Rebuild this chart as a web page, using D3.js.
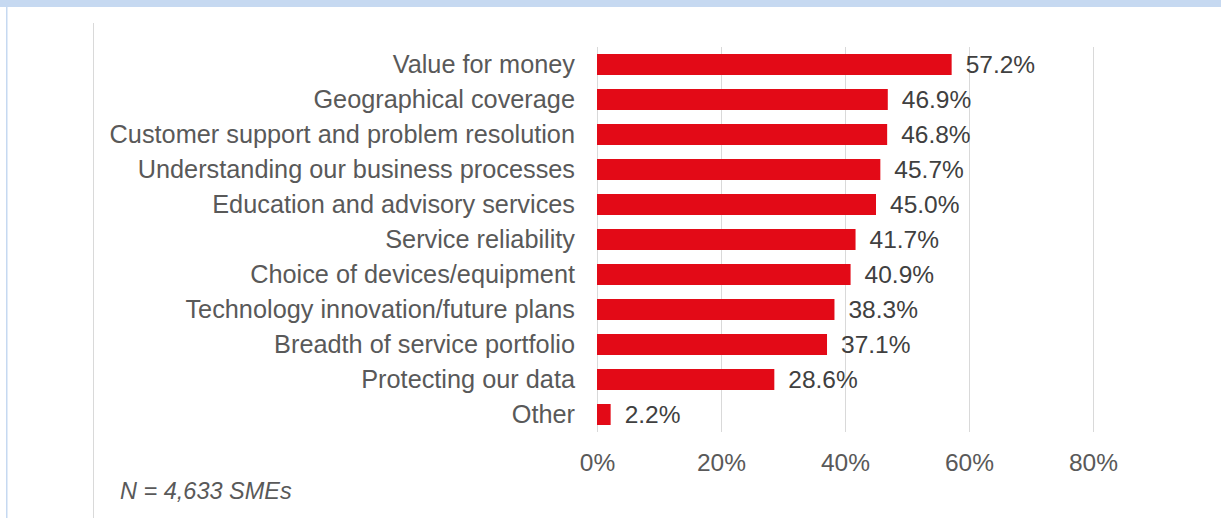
<!DOCTYPE html>
<html>
<head>
<meta charset="utf-8">
<script src="https://cdn.jsdelivr.net/npm/d3@7"></script>
<style>
  html, body { margin: 0; padding: 0; background: #fff; }
  svg { display: block; font-family: "Liberation Sans", Arial, sans-serif; }
</style>
</head>
<body>
<div id="host"></div>
<script>
const categories = [
  'Value for money',
  'Geographical coverage',
  'Customer support and problem resolution',
  'Understanding our business processes',
  'Education and advisory services',
  'Service reliability',
  'Choice of devices/equipment',
  'Technology innovation/future plans',
  'Breadth of service portfolio',
  'Protecting our data',
  'Other'
];
const values = [57.2, 46.9, 46.8, 45.7, 45.0, 41.7, 40.9, 38.3, 37.1, 28.6, 2.2];
const xTicks = [0, 20, 40, 60, 80];
const note = 'N = 4,633 SMEs';

const width = 1221, height = 518;
const margin = { top: 47, right: 128, bottom: 86, left: 597 };
const fontSize = 24.5;

const svg = d3.select('#host').append('svg')
  .attr('width', width).attr('height', height);

// frame bits around the chart
svg.append('rect').attr('x', 0).attr('y', 0).attr('width', width).attr('height', 7).attr('fill', '#c6d9f1');
svg.append('rect').attr('x', 6).attr('y', 7).attr('width', 1.5).attr('height', height - 7).attr('fill', '#c6d9f1');
svg.append('line').attr('x1', 93.5).attr('x2', 93.5).attr('y1', 23).attr('y2', height)
  .attr('stroke', '#d9d9d9').attr('stroke-width', 1);

const w = width - margin.left - margin.right;
const h = height - margin.top - margin.bottom;

const x = d3.scaleLinear().domain([0, 80]).range([0, w]);
const y = d3.scaleBand().domain(categories).range([0, h]).paddingInner(0.4).paddingOuter(0.2);

const g = svg.append('g').attr('transform', `translate(${margin.left},${margin.top})`);

// gridlines
g.append('g')
  .selectAll('line')
  .data(xTicks)
  .join('line')
  .attr('x1', d => Math.round(x(d)) + 0.5)
  .attr('x2', d => Math.round(x(d)) + 0.5)
  .attr('y1', 0)
  .attr('y2', h)
  .attr('stroke', '#d9d9d9');

// x axis labels
const xAxis = g.append('g')
  .attr('transform', `translate(0,${h})`)
  .call(d3.axisBottom(x).tickValues(xTicks).tickFormat(d => d + '%').tickSize(0).tickPadding(22));
xAxis.select('.domain').remove();
xAxis.selectAll('text').attr('font-size', fontSize).attr('fill', '#595959').attr('font-family', null);

// y axis labels
const yAxis = g.append('g')
  .call(d3.axisLeft(y).tickSize(0).tickPadding(22));
yAxis.select('.domain').remove();
yAxis.selectAll('text').attr('font-size', 25.3).attr('fill', '#595959').attr('font-family', null);

// bars
g.selectAll('.bar')
  .data(values)
  .join('rect')
  .attr('class', 'bar')
  .attr('x', x(0))
  .attr('y', (d, i) => y(categories[i]))
  .attr('width', d => x(d) - x(0))
  .attr('height', y.bandwidth())
  .attr('fill', '#e30a17');

// value labels
g.selectAll('.bar-label')
  .data(values)
  .join('text')
  .attr('class', 'bar-label')
  .attr('x', d => x(d) + 14)
  .attr('y', (d, i) => y(categories[i]) + y.bandwidth() / 2)
  .attr('dy', '0.35em')
  .attr('font-size', fontSize)
  .attr('fill', '#404040')
  .text(d => d.toFixed(1) + '%');

// footnote
svg.append('text')
  .attr('x', 120)
  .attr('y', 499)
  .attr('font-size', 23.5)
  .attr('font-style', 'italic')
  .attr('fill', '#595959')
  .text(note);
</script>
</body>
</html>
